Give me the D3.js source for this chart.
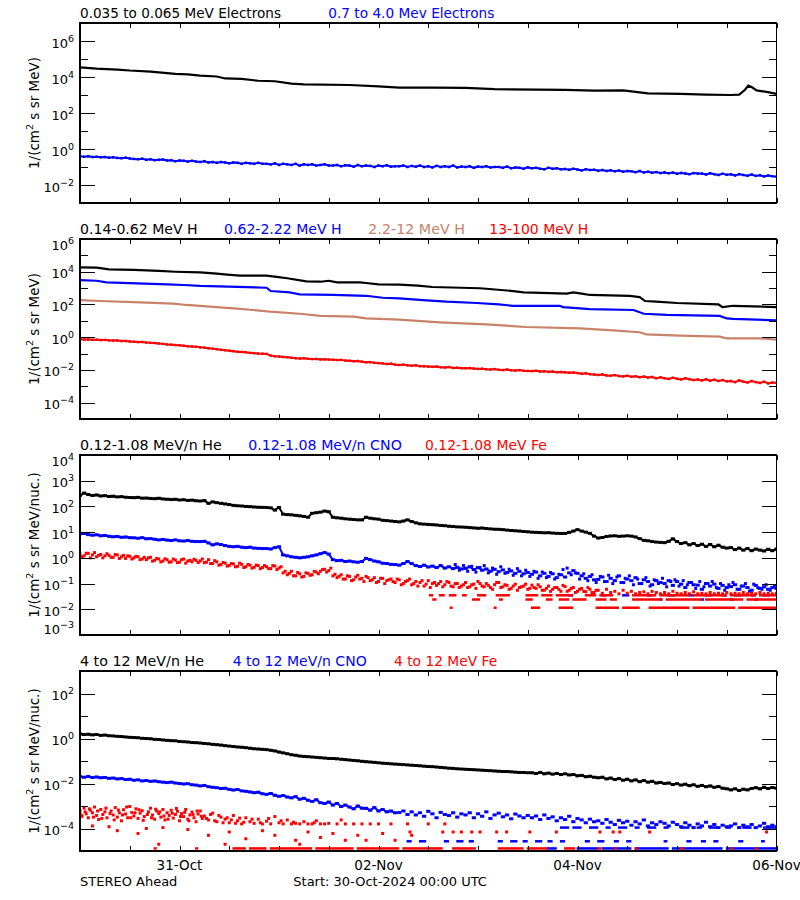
<!DOCTYPE html>
<html><head><meta charset="utf-8">
<script src="https://cdn.jsdelivr.net/npm/d3@7"></script>
<style>
body{margin:0;background:#fff}
svg{display:block}
text{font-family:"DejaVu Sans",sans-serif;}
</style>
</head><body>
<svg id="chart" width="800" height="900"></svg>
<script>
// ---------------- DATA ----------------
const startTime = "2024-10-30T00:00:00Z";
const endTime   = "2024-11-06T00:00:00Z";
const dateTickLabels = ["2024-10-31T00:00:00Z","2024-11-02T00:00:00Z","2024-11-04T00:00:00Z","2024-11-06T00:00:00Z"];

const titles1 = ["0.035 to 0.065 MeV Electrons", "0.7 to 4.0 Mev Electrons"];
const titles2 = ["0.14-0.62 MeV H", "0.62-2.22 MeV H", "2.2-12 MeV H", "13-100 MeV H"];
const titles3 = ["0.12-1.08 MeV/n He", "0.12-1.08 MeV/n CNO", "0.12-1.08 MeV Fe"];
const titles4 = ["4 to 12 MeV/n He", "4 to 12 MeV/n CNO", "4 to 12 MeV Fe"];
const yTitles = ["MeV", "MeV", "MeV/nuc.", "MeV/nuc."];
const footerLeft = "STEREO Ahead";
const footerStart = "Start: 30-Oct-2024 00:00 UTC";

// Panel 1: [hour, flux]
const eLow = [[0,3.4e4],[4,2.9e4],[9,2.6e4],[12,2.3e4],[17,2.0e4],[23,1.5e4],[26,1.4e4],[29,1.2e4],[33,1.07e4],[35,8.3e3],[39,7.8e3],[43,6.2e3],[47,5.8e3],[51,4.3e3],[54,3.9e3],[65,3.6e3],[72,3.0e3],[77,2.6e3],[85,2.6e3],[93,2.5e3],[100,2.1e3],[117,1.95e3],[124,1.74e3],[131,1.8e3],[135,1.4e3],[137,1.23e3],[145,1.15e3],[151,1.05e3],[157,1.0e3],[159,1.05e3],[160.4,1.95e3],[161.2,3.3e3],[162,2.75e3],[163.2,1.8e3],[165.6,1.48e3],[168,1.15e3]];
// hourly values (index = hour)
const eHigh = [
0.39,0.37,0.40,0.36,0.37,0.35,0.36,0.33,0.35,0.32,0.31,0.33,0.30,
0.28,0.27,0.29,0.25,0.27,0.24,0.25,0.26,0.23,0.24,0.21,0.23,0.22,0.20,0.22,0.20,
0.19,0.21,0.18,0.19,0.17,0.19,0.18,0.16,0.18,0.17,0.15,0.17,0.16,0.15,0.17,0.15,
0.15,0.14,0.16,0.13,0.15,0.14,0.13,0.15,0.12,0.14,0.13,0.14,0.12,0.13,0.14,0.12,
0.12,0.13,0.11,0.125,0.12,0.105,0.13,0.11,0.12,0.115,0.10,0.12,0.11,0.125,0.105,0.11,
0.11,0.12,0.10,0.115,0.105,0.12,0.10,0.11,0.095,0.115,0.10,0.11,0.10,0.12,0.095,0.105,0.10,0.11,0.09,0.105,0.10,0.11,0.095,0.10,
0.10,0.09,0.105,0.085,0.095,0.09,0.08,0.095,0.085,0.09,0.08,0.075,0.09,0.08,0.085,0.075,
0.078,0.07,0.08,0.072,0.065,0.075,0.068,0.07,0.062,0.068,0.06,0.065,0.058,0.063,0.055,0.06,
0.058,0.052,0.06,0.05,0.055,0.048,0.052,0.046,0.05,0.045,0.049,0.042,0.047,0.044,0.04,0.046,0.043,
0.043,0.038,0.045,0.04,0.036,0.042,0.037,0.039,0.034,0.04,0.036,0.033,0.038,0.032,0.035,0.03,0.034,0.031,0.029];

// Panel 2
const hLow = [[0,1.86e4],[4,1.78e4],[7,1.41e4],[13,1.29e4],[19,1.12e4],[23,1.0e4],[29,9.1e3],[33,7.6e3],[35.5,6.6e3],[38.6,5.75e3],[45,5.75e3],[47.4,4.8e3],[50,4.0e3],[54.6,2.57e3],[58,2.45e3],[60,2.8e3],[62,2.24e3],[67.5,2.24e3],[69,2.04e3],[72,1.7e3],[77,1.62e3],[81.5,1.41e3],[85,1.17e3],[96.5,980],[104.5,660],[107,550],[117.4,457],[119,550],[121,457],[123,380],[132.6,331],[135,282],[136.3,162],[139,148],[144,123],[154,100],[155,69],[157.5,83],[168,69]];
const hMid = [[0,3.1e3],[4,2.8e3],[6.4,2.24e3],[21,1.7e3],[25,1.55e3],[29,1.35e3],[45,1.05e3],[46,660],[50.6,550],[53,417],[61,380],[69,339],[73,257],[77,234],[83.6,178],[88.4,148],[95.7,123],[101,100],[104.5,83],[115.7,83],[116.5,69],[123,52],[133.5,46],[136,27],[141.5,23],[154.3,20],[156,14],[157.5,13],[168,10.7]];
const hHigh = [[0,186],[4.8,162],[14.5,135],[22.5,112],[25.7,93],[37,58],[41.8,46],[45.8,36],[53,27],[58,20],[66,17.8],[69,14],[77,11.7],[86.8,8.1],[98,6.0],[107.7,4.2],[120.6,3.5],[128.6,2.6],[135,2.0],[136.6,1.48],[144.7,1.23],[154.3,1.07],[156,0.85],[164,0.85],[168,0.71]];
const hTop = [
0.74,0.72,0.73,0.69,0.70,0.67,0.68,0.64,0.62,0.63,0.58,0.59,0.55,
0.53,0.50,0.51,0.47,0.45,0.44,0.41,0.39,
0.36,0.35,0.33,0.32,0.30,0.28,0.27,0.26,
0.24,0.23,0.21,0.20,0.185,0.17,0.16,0.15,
0.14,0.13,0.125,0.12,0.11,0.105,0.10,0.098,0.095,0.075,
0.068,0.066,0.062,0.060,0.055,0.052,0.050,0.052,0.048,0.046,0.047,0.044,0.045,0.043,
0.042,0.040,0.041,0.037,0.036,0.034,0.035,0.032,0.029,0.030,0.027,0.026,0.025,0.023,0.024,0.021,
0.020,0.021,0.019,0.018,0.019,0.017,0.0165,0.016,0.0155,0.016,0.0145,0.014,0.015,0.013,0.0135,0.0128,
0.0126,0.013,0.012,0.0115,0.0118,0.011,0.0105,0.0112,0.0102,0.0098,0.0104,0.0095,0.0092,0.0097,0.0088,0.0086,
0.0085,0.0088,0.008,0.0083,0.0076,0.0079,0.0072,0.0075,0.0071,0.0068,0.007,0.0064,0.0058,0.0062,0.0055,0.0052,
0.0049,0.0053,0.0046,0.0044,0.0048,0.0042,0.0040,0.0044,0.0038,0.0041,0.0036,0.0039,0.0034,0.0037,0.0031,0.0035,
0.0031,0.0028,0.0033,0.0029,0.0026,0.0031,0.0027,0.0024,0.0026,0.0023,0.0027,0.0022,0.0025,0.0021,0.0024,0.0020,
0.0021,0.0018,0.0023,0.0019,0.0017,0.0021,0.0018,0.0016,0.0019,0.0015,0.0017,0.0016];

// Panel 3 (hourly)
const heLow = [
270,330,290,265,280,255,262,245,250,235,240,228,222,
219,225,210,212,205,200,208,195,191,185,190,178,182,172,176,166,
162,168,132,150,140,132,125,118,110,106,104,100,98,95,93,92,
91,88,72,91,50,48,47,45,43,41,38,54,57,60,66,62,
38,36,35,33,32,31,30,30,38,35,33,32,29,28,27,26,
25,27,30,26,23,21,20.5,20,19.5,19,18.2,17.8,17,16.5,16,15.8,
15.5,15,14.6,14.2,14.5,13.8,13.4,13,12.9,12.5,12,11.6,11.3,11,10.6,10.3,
10,9.8,9.6,9.4,9.5,9.2,9.0,8.9,8.9,9.8,11,12.5,11,10,9,7,
5.9,6.2,6.8,7.1,7.2,6.9,7.0,7.2,7.0,6.5,5.6,4.8,4.6,4.3,4.1,4.0,
3.9,4.4,5.5,4.3,3.6,3.9,3.2,3.6,3.0,3.4,2.8,3.3,2.7,3.1,2.6,2.4,
2.5,2.1,2.4,2.0,2.3,1.9,2.2,2.0,1.85,2.15,1.9,2.2];
const cnoLow = [
8.6,8.9,8.0,7.6,7.9,7.2,7.4,6.9,6.6,6.8,6.3,6.5,6.1,
6.0,5.8,6.1,5.5,5.6,5.3,5.0,5.2,4.9,4.7,5.0,4.6,4.5,4.7,4.4,4.3,
4.3,4.4,3.8,3.2,3.5,3.3,3.0,2.8,2.7,2.8,2.6,2.5,2.6,2.4,2.35,2.3,
2.3,2.2,2.5,2.7,1.3,1.2,1.1,1.05,1.0,1.05,1.1,1.2,1.3,1.45,1.6,1.4,
0.85,0.78,0.8,0.72,0.75,0.7,0.68,0.72,0.95,0.85,0.75,0.7,0.62,0.6,0.56,0.55,
0.52,0.6,0.72,0.6,0.5,0.46,0.52,0.44,0.48,0.42,0.5,0.4,0.45,0.38,0.43,0.37,
0.39,0.45,0.35,0.42,0.33,0.37,0.3,0.36,0.29,0.34,0.27,0.31,0.25,0.3,0.24,0.27,
0.23,0.28,0.2,0.25,0.19,0.24,0.17,0.22,0.18,0.26,0.32,0.25,0.2,0.16,0.19,0.14,
0.145,0.18,0.12,0.16,0.13,0.2,0.11,0.15,0.13,0.17,0.1,0.14,0.12,0.09,0.13,0.11,
0.1,0.13,0.085,0.12,0.095,0.07,0.11,0.09,0.087,0.06,0.1,0.08,0.095,0.065,0.085,0.07,
0.076,0.09,0.06,0.08,0.07,0.055,0.085,0.065,0.075,0.06,0.07,0.065];
// second CNO sample each hour (from hour 90, half-hour offset)
const cnoLowB = [
0.55,0.33,0.5,0.3,0.47,0.28,0.42,0.5,0.26,0.4,0.23,0.45,0.25,0.36,0.21,
0.38,0.2,0.33,0.19,0.3,0.16,0.28,0.17,0.27,0.15,0.23,0.35,0.4,0.22,0.26,0.15,
0.24,0.13,0.22,0.11,0.19,0.12,0.21,0.1,0.18,0.11,0.16,0.2,0.09,0.15,0.1,0.17,
0.08,0.14,0.1,0.16,0.075,0.12,0.14,0.08,0.13,0.09,0.11,0.065,0.12,0.075,0.1,0.12,
0.07,0.1,0.055,0.09,0.11,0.06,0.08,0.1,0.05,0.095,0.07,0.06,0.09,0.055,0.08,0.1];
const feLow = [
1.4,1.2,1.5,1.3,1.1,1.35,1.2,1.25,1.05,1.3,1.1,0.95,1.15,
1.0,1.1,0.9,0.85,1.05,0.8,0.9,0.75,0.85,0.7,0.82,0.68,0.9,0.75,0.7,0.8,
0.76,0.65,0.85,0.6,0.7,0.55,0.62,0.5,0.58,0.47,0.56,0.45,0.52,0.43,0.5,0.42,
0.45,0.38,0.48,0.4,0.26,0.22,0.3,0.2,0.24,0.19,0.25,0.22,0.28,0.3,0.36,0.32,
0.2,0.17,0.22,0.15,0.19,0.14,0.21,0.16,0.19,0.13,0.17,0.12,0.16,0.13,0.15,0.11,
0.14,0.1,0.13,0.09,0.12,0.11,0.08,0.13,0.1,0.085,0.12,0.09,0.11,0.075,0.1,0.08,
0.11,0.075,0.095,0.12,0.08,0.1,0.07,0.09,0.11,0.075,0.085,0.065,0.095,0.07,0.08,0.06,
0.087,0.065,0.075,0.055,0.08,0.06,0.07,0.05,0.076,0.055,0.07,0.05,0.065,0.048,0.06,0.045,
0.055,0.042,0.06,0.045,0.05,0.04,0.055,0.042,0.05,0.04,0.045,0.048,0.04,0.05,0.045,0.04,
0.045,0.04,0.05,0.042,0.04,0.045,0.04,0.048,0.04,0.042,0.04,0.045,0.04,0.042,0.04,0.045,
0.04,0.042,0.04,0.045,0.04,0.042,0.04,0.045,0.04,0.042,0.04,0.042];
// second Fe sample each hour (half-hour offset, hours 0-124)
const feLowB = [
1.1,1.5,1.0,1.6,1.25,1.0,1.45,1.05,1.35,0.95,1.25,1.2,0.9,
1.15,0.85,1.05,1.0,0.75,0.95,0.7,0.92,0.68,0.9,0.65,0.85,0.62,0.8,0.88,0.66,
0.9,0.68,0.6,0.78,0.52,0.66,0.48,0.6,0.45,0.62,0.42,0.55,0.4,0.52,0.38,0.5,
0.38,0.5,0.35,0.45,0.3,0.25,0.2,0.27,0.18,0.26,0.21,0.3,0.24,0.35,0.28,0.4,
0.23,0.19,0.15,0.2,0.13,0.18,0.15,0.12,0.17,0.14,0.11,0.16,0.1,0.14,0.12,0.15,
0.09,0.12,0.15,0.1,0.08,0.13,0.095,0.07,0.11,0.1,0.075,0.12,0.08,0.1,0.07,0.09,
0.07,0.09,0.065,0.1,0.075,0.085,0.06,0.11,0.07,0.09,0.06,0.08,0.055,0.075,0.095,0.065,
0.07,0.09,0.055,0.065,0.05,0.07,0.06,0.085,0.05,0.065,0.045,0.06,0.05,0.07,0.045,0.055];
// count-limited levels (value) and the hour ranges where points sit on them
const feLowLevels = [0.035, 0.024, 0.0115];
const feLowRuns = [
 [[84.4,85.2],[86.8,88],[89.2,90.8],[92.4,93.3],[96,98],[100.5,103.7],[107.7,110.5],[111.5,114],[115,118.9],[122,124.5],[125.5,128.6],[133.4,139],[140,147],[148,156],[157,163],[164,168]],
 [[85.2,86],[94.8,96.5],[101.3,102],[107.7,109.2],[112.6,114],[115.7,118],[119,122.2],[124.6,127],[128,129.5],[133.4,140.5],[141.5,150],[151,160],[161,168]],
 [[89.4,89.9],[100,100.5],[109,111],[115.7,119],[124.6,130],[131,135],[137.4,147],[148,158],[159,168]]];
const cnoLowLevels = [0.035, 0.024];
const cnoLowRuns = [
 [[118,119],[126,127],[131,132.5],[137,138],[142,143.5],[147,148],[151,152.5],[155,156],[158,159.5],[162,163],[165,166.5]],
 [[140,140.5],[150,150.5],[157,157.7],[163,163.5]]];

// Panel 4
const heHigh = [
1.6,1.5,1.55,1.45,1.5,1.38,1.42,1.33,1.3,1.25,1.22,1.17,1.13,
1.1,1.08,1.02,1.0,0.97,0.92,0.9,0.86,0.83,0.8,0.79,0.74,0.72,0.7,0.66,0.65,
0.63,0.6,0.58,0.55,0.53,0.51,0.48,0.46,0.44,0.42,0.41,0.39,0.37,0.35,0.34,0.33,
0.32,0.3,0.28,0.25,0.23,0.21,0.19,0.18,0.166,0.16,0.155,0.15,0.145,0.14,0.135,0.13,
0.129,0.125,0.12,0.115,0.11,0.106,0.102,0.097,0.093,0.09,0.087,0.083,0.08,0.078,0.075,0.073,
0.071,0.069,0.067,0.065,0.063,0.061,0.059,0.057,0.056,0.054,0.052,0.05,0.048,0.047,0.045,0.044,
0.043,0.042,0.041,0.04,0.039,0.038,0.037,0.036,0.035,0.034,0.034,0.033,0.032,0.031,0.031,0.03,
0.03,0.028,0.031,0.027,0.029,0.026,0.028,0.025,0.027,0.024,0.025,0.022,0.023,0.02,0.021,0.019,
0.018,0.019,0.016,0.0175,0.015,0.0165,0.014,0.0155,0.013,0.0145,0.012,0.0135,0.0115,0.0125,0.0105,0.0112,
0.01,0.0105,0.009,0.0098,0.0085,0.0093,0.008,0.0088,0.0075,0.0082,0.0072,0.0078,0.0068,0.0073,0.0062,0.0058,
0.0052,0.0058,0.0049,0.0056,0.0052,0.006,0.0065,0.0058,0.0068,0.006,0.0066,0.0062];
const cnoHigh = [
0.02,0.019,0.0205,0.0185,0.0195,0.018,0.0185,0.017,0.0175,0.016,0.0165,0.015,0.0155,
0.014,0.0145,0.013,0.0135,0.0125,0.013,0.012,0.0115,0.011,0.0115,0.0105,0.01,0.0095,0.0098,0.0088,0.0085,
0.0078,0.0082,0.0072,0.0068,0.0065,0.006,0.0062,0.0055,0.0051,0.0054,0.0047,0.0045,0.0042,0.0039,0.0041,0.0035,
0.0033,0.0036,0.003,0.0027,0.0029,0.0025,0.0023,0.0026,0.002,0.0022,0.0018,0.0016,0.0019,0.0014,0.0013,0.0015,
0.0011,0.0013,0.00095,0.0011,0.0009,0.00075,0.001,0.0008,0.00079,0.00065,0.00085,0.0006,0.0007,0.00055,0.0006,0.0005,
0.00051,0.0006,0.00042,0.00055,0.0004,0.0005,0.00035,0.00058,0.00045,0.0003,0.00052,0.00042,0.00038,0.0005,0.00032,0.00045,
0.0004,0.0005,0.0003,0.00045,0.00035,0.00055,0.00028,0.0004,0.00048,0.00033,0.0004,0.00027,0.00044,0.00036,0.0003,0.00038,
0.0003,0.00036,0.00025,0.0004,0.00028,0.00033,0.00022,0.0003,0.00025,0.00035,0.0002,0.00028,0.00024,0.00018,0.00026,0.0002,
0.00022,0.00017,0.00025,0.00019,0.00015,0.00023,0.00018,0.00021,0.00014,0.0002,0.00016,0.00024,0.00013,0.00018,0.00015,0.0002,
0.00017,0.00013,0.00019,0.00015,0.00012,0.00018,0.00014,0.00011,0.00016,0.00013,0.00019,0.00012,0.00015,0.00011,0.00014,0.00012,
0.00013,0.00016,0.00011,0.00014,0.00012,0.00015,0.00011,0.00013,0.00017,0.00012,0.00014,0.00012];
// sparse Fe points [hour, flux]
const feHigh = [[0,6e-4],[0.5,3.5e-4],[1,8e-4],[1.5,4.5e-4],[2,3e-4],[2.5,6.5e-4],[3,5e-4],[3.5,9e-4],[4,3.8e-4],[4.5,2.5e-4],[5,7e-4],[5.5,4.2e-4],[6,5.5e-4],[6.5,3e-4],[7,1.2e-4],[7.5,6e-4],[8,4e-4],[8.5,8.5e-4],[9,3.2e-4],[9.5,5e-4],[10,2.2e-4],[10.5,6.8e-4],[11,4.4e-4],[11.5,3e-4],[12,9.5e-4],[12.5,5.2e-4],[13,3.6e-4],[13.5,7.5e-4],[14,2.8e-4],[14.5,4.8e-4],[15,6.2e-4],[15.5,3.4e-4],[16,1e-4],[16.5,5.5e-4],[17,8e-4],[17.5,4e-4],[18,2.6e-4],[18.5,6e-4],[19,4.6e-4],[19.5,3.2e-4],[20,7e-4],[20.5,2.4e-4],[21,5e-4],[21.5,3.8e-4],[22,6.5e-4],[22.5,2.9e-4],[23,4.2e-4],[23.5,5.8e-4],[24,2.2e-4],[24.5,4.6e-4],[25,3.4e-4],[25.5,7e-4],[26,2.6e-4],[26.5,4e-4],[27,5.4e-4],[27.5,3e-4],[28,2e-4],[28.5,4.4e-4],[29,6e-4],[29.5,2.8e-4],
[30,3.6e-4],[31,2.4e-4],[32,4.8e-4],[33,2e-4],[34,3.2e-4],[35,2.6e-4],[36,1.8e-4],[37,3.8e-4],[38,2.2e-4],[39,1.6e-4],[40,3e-4],[41,2e-4],[42,1.7e-4],[43,2.6e-4],[44,1.6e-4],[45,2.1e-4],[46,1.6e-4],[47,3.4e-4],[48,1.8e-4],[49,1.6e-4],[50,2.4e-4],[51,1.6e-4],[52,1.7e-4],[53,1.6e-4],[54,2e-4],[55,1.6e-4],[56,1.6e-4],[57,2.2e-4],[58,1.6e-4],[59,1.6e-4],[60,1.7e-4],[62,1.6e-4],[63,2.4e-4],[64,1.6e-4],[66,1.6e-4],[68,1.6e-4],[70,1.6e-4],[72,1.6e-4],[75,1.6e-4],[79,1.6e-4],[84,1.6e-4],[88,1.6e-4],
[3,1.3e-4],[9,8e-5],[14,6e-5],[20,1.1e-4],[26,9e-5],[31,5e-5],[36,7e-5],[40,3.5e-5],[44,8e-5],[47,5e-5],[52,3e-5],[55,7e-5],[58,4e-5],[61,6e-5],[64,3e-5],[67,5e-5],[69,3e-5],[73,6e-5],[76,3e-5],[80,5e-5],[19,2e-5],[35,2e-5],[53,2e-5],
[79.6,7e-5],[87.5,7e-5],[90,7e-5],[92,7e-5],[94.5,7e-5],[96.5,7e-5],[100.5,7e-5],[102.9,7e-5],[108.5,7e-5],[114.9,7e-5],[125.4,7e-5],[128.6,7e-5],[130.2,7e-5],[137.4,7e-5],[165.6,7e-5],
[0.25,4e-4],[1.25,5.5e-4],[2.25,7.5e-4],[3.25,3.2e-4],[4.25,6e-4],[5.25,2.8e-4],[6.25,8e-4],[7.25,4.6e-4],[8.25,2.4e-4],[9.25,6.6e-4],[10.25,4e-4],[11.25,9e-4],[12.25,3e-4],[13.25,5e-4],[14.25,6.8e-4],[15.25,2.3e-4],[16.25,4.2e-4],[17.25,3e-4],[18.25,7.2e-4],[19.25,5.5e-4],[20.25,3.6e-4],[21.25,2.6e-4],[22.25,4.8e-4],[23.25,7.8e-4],[24.25,3.4e-4],[25.25,5.2e-4],[26.25,2.2e-4],[27.25,4.2e-4],[28.25,6e-4],[29.25,3.5e-4],[30.5,2.8e-4],[31.5,4.2e-4],[32.5,2.2e-4],[33.5,3.8e-4],[34.5,1.8e-4],[35.5,3e-4],[36.5,2.4e-4],[37.5,1.7e-4],[38.5,2.9e-4],[39.5,1.9e-4],[41.5,2.6e-4],[43.5,1.8e-4],[45.5,2.8e-4],[48.5,2.2e-4],[51.5,1.9e-4],[56.5,1.8e-4]];
const feHighLevels = [1.3e-5];
const feHighRuns = [[[18,18.5],[28,28.5],[37,40],[41,45],[46,56],[57,66],[67,77],[78,87.5],[90,95.5],[101,107],[108,113],[117,119.5]]];
const cnoHighLevels = [1.3e-5, 2.7e-5, 1.1e-4];
const cnoHighRuns = [
 [[113,115],[120,125],[126,133],[134,142],[143,155],[156,168]],
 [[79,80],[82,83.5],[88,89],[91,92.5],[94,95],[101,102],[104,105.5],[107,108],[110,111.5],[113,114],[116,117],[122,123],[125,126.5],[129,130],[132,133],[141,141.7],[146.5,147.5],[150,151],[153,154],[159,160],[164.5,165.2]],
 [[116,118],[119,121],[123,125],[127,128],[130,132],[134,135],[137,139],[141,142],[145,147],[149,150],[152,154],[156,157],[160,162],[165,168]]];
const feHighLateLevels = [1.3e-5];
const feHighLateRuns = [[[125,125.7],[129,129.5],[134,134.5],[145,145.7],[157,157.5],[163,163.5]]];

// ---------------- LAYOUT / STYLE ----------------
const W = 800, H = 900;
const left = 80, right = 776.5;
const panelTops = [23, 239, 455, 671];
const panelH = 180;
const BLUE = "#0000ff", RED = "#ff0000", TAN = "#c8826a", BLACK = "#000000";

const svg = d3.select("#chart");
svg.append("rect").attr("width", W).attr("height", H).attr("fill", "#fff");
const x = d3.scaleUtc().domain([new Date(startTime), new Date(endTime)]).range([left, right]);
const hourDate = h => new Date(Date.parse(startTime) + h * 3600000);
const hourly = (arr, from = 0, off = 0) => arr.map((v, i) => [from + i + off, v]);

const panels = [
  {domain: [1e-3, 1e7], allMajor: false, titles: titles1, colors: [BLACK, BLUE], tx: [80, 328.3], tl: [201, 166],
   series: [
     {data: eLow, color: BLACK, line: 2.2},
     {data: hourly(eHigh), color: BLUE, line: 2, pw: 2.5, ph: 2.5}
   ]},
  {domain: [1e-5, 1e6], allMajor: false, titles: titles2, colors: [BLACK, BLUE, TAN, RED], tx: [80, 224, 368.3, 489.3], tl: [117.7, 117.7, 96.7, 99],
   series: [
     {data: hLow, color: BLACK, line: 2.2},
     {data: hMid, color: BLUE, line: 2.2},
     {data: hHigh, color: TAN, line: 2.2},
     {data: hourly(hTop), color: RED, line: 2, pw: 2.5, ph: 2.5}
   ]},
  {domain: [1e-3, 1e4], allMajor: true, titles: titles3, colors: [BLACK, BLUE, RED], tx: [80, 248.3, 425], tl: [141.7, 153.5, 121.7],
   series: [
     {data: hourly(heLow), color: BLACK, line: 2, lineUntil: 168, pw: 4.2, ph: 3},
     {data: hourly(cnoLow), color: BLUE, line: 2, lineUntil: 100, pw: 4.2, ph: 3},
     {data: hourly(cnoLowB, 90, 0.5), color: BLUE, pw: 3, ph: 3},
     {runs: cnoLowRuns, levels: cnoLowLevels, color: BLUE},
     {data: hourly(feLow), color: RED, pw: 3, ph: 3},
     {data: hourly(feLowB, 0, 0.5), color: RED, pw: 3, ph: 3},
     {runs: feLowRuns, levels: feLowLevels, color: RED}
   ]},
  {domain: [1e-5, 1e3], allMajor: false, titles: titles4, colors: [BLACK, BLUE, RED], tx: [80, 232.7, 394], tl: [124, 134, 103.3],
   series: [
     {data: hourly(heHigh), color: BLACK, line: 2, lineUntil: 168, pw: 4.2, ph: 3},
     {data: hourly(cnoHigh), color: BLUE, line: 2, lineUntil: 76, pw: 4.2, ph: 3},
     {data: feHigh, color: RED, pw: 3, ph: 3},
     {runs: feHighRuns, levels: feHighLevels, color: RED},
     {runs: cnoHighRuns, levels: cnoHighLevels, color: BLUE},
     {runs: feHighLateRuns, levels: feHighLateLevels, color: RED}
   ]}
];

panels.forEach((p, i) => {
  const top = panelTops[i], bottom = top + panelH;
  const y = d3.scaleLog().domain(p.domain).range([bottom, top]);
  const g = svg.append("g");
  const clipId = "clip" + i;
  svg.append("clipPath").attr("id", clipId).append("rect")
    .attr("x", left).attr("y", top).attr("width", right - left).attr("height", panelH);

  // data
  const dg = g.append("g").attr("clip-path", `url(#${clipId})`);
  p.series.forEach(s => {
    if (s.runs) {
      s.runs.forEach((runs, k) => {
        dg.append("g").selectAll("rect").data(runs).join("rect")
          .attr("x", d => x(hourDate(d[0])) - 1)
          .attr("width", d => Math.max(2.5, x(hourDate(d[1])) - x(hourDate(d[0])) + 1))
          .attr("y", y(s.levels[k]) - 1.25).attr("height", 2.5)
          .attr("fill", s.color);
      });
      return;
    }
    const pts = s.data.filter(d => d[1] != null && d[1] > 0);
    if (s.line) {
      const lim = s.lineUntil != null ? s.lineUntil : 1e9;
      const lp = pts.filter(d => d[0] <= lim);
      dg.append("path").datum(lp)
        .attr("d", d3.line().x(d => x(hourDate(d[0]))).y(d => y(d[1])))
        .attr("fill", "none").attr("stroke", s.color).attr("stroke-width", s.line)
        .attr("stroke-linejoin", "miter");
    }
    if (s.pw) {
      dg.append("g").selectAll("rect").data(pts).join("rect")
        .attr("x", d => x(hourDate(d[0])) - s.pw / 2)
        .attr("y", d => y(d[1]) - s.ph / 2)
        .attr("width", s.pw).attr("height", s.ph)
        .attr("fill", s.color);
    }
  });

  // y ticks
  const e0 = Math.round(Math.log10(p.domain[0])), e1 = Math.round(Math.log10(p.domain[1]));
  const exps = d3.range(e0, e1 + 1);
  const majors = exps.filter(e => p.allMajor || e % 2 === 0);
  const minors = exps.filter(e => !(p.allMajor || e % 2 === 0));
  const axG = g.append("g").attr("stroke-width", 1);
  const mk = (axisFn, xpos, vals, size) => {
    const a = axG.append("g").attr("transform", `translate(${xpos},0)`)
      .call(axisFn(y).tickValues(vals.map(e => Math.pow(10, e))).tickSize(-size).tickFormat(""));
    a.select(".domain").remove();
    a.selectAll("line").attr("stroke", "#000").attr("shape-rendering", "crispEdges");
  };
  mk(d3.axisLeft, left, majors, 15);
  mk(d3.axisLeft, left, minors, 8);
  mk(d3.axisRight, right, majors, 15);
  mk(d3.axisRight, right, minors, 8);

  // x ticks (every 12 h)
  const xt = x.ticks(d3.utcHour.every(12));
  const xb = g.append("g").attr("transform", `translate(0,${bottom})`)
    .call(d3.axisBottom(x).tickValues(xt).tickSize(-5).tickFormat(""));
  xb.select(".domain").remove();
  xb.selectAll("line").attr("stroke", "#000").attr("shape-rendering", "crispEdges");
  const xtp = g.append("g").attr("transform", `translate(0,${top})`)
    .call(d3.axisTop(x).tickValues(xt).tickSize(-5).tickFormat(""));
  xtp.select(".domain").remove();
  xtp.selectAll("line").attr("stroke", "#000").attr("shape-rendering", "crispEdges");

  // frame
  g.append("rect").attr("x", left).attr("y", top).attr("width", right - left).attr("height", panelH)
    .attr("fill", "none").attr("stroke", "#000").attr("stroke-width", 1.2).attr("shape-rendering", "crispEdges");

  // y tick labels
  majors.forEach(e => {
    let by = y(Math.pow(10, e)) + 6.5;
    by = Math.max(by, top + 10.5);
    by = Math.min(by, bottom - 1);
    const t = g.append("text").attr("x", 74).attr("y", by).attr("text-anchor", "end")
      .attr("font-size", 13).attr("fill", "#000");
    t.append("tspan").text("10");
    t.append("tspan").attr("dy", -6).attr("font-size", 9.5).text(e < 0 ? "\u2212" + (-e) : String(e));
  });

  // y title
  const yt = g.append("text").attr("transform", `translate(39,${(top + bottom) / 2}) rotate(-90)`)
    .attr("text-anchor", "middle").attr("font-size", 13.5).attr("fill", "#000");
  yt.append("tspan").text("1/(cm");
  yt.append("tspan").attr("dy", -6).attr("font-size", 9.5).text("2");
  yt.append("tspan").attr("dy", 6).text(" s sr " + yTitles[i] + ")");

  // panel titles
  p.titles.forEach((tt, k) => {
    g.append("text").attr("x", p.tx[k]).attr("y", top - 5.5).attr("font-size", 13.5)
      .attr("fill", p.colors[k]).attr("textLength", p.tl[k]).attr("lengthAdjust", "spacingAndGlyphs").text(tt);
  });

  if (i === panels.length - 1) {
    dateTickLabels.forEach(ds => {
      const d = new Date(ds);
      g.append("text").attr("x", x(d)).attr("y", bottom + 18.5).attr("text-anchor", "middle")
        .attr("font-size", 13.5).attr("fill", "#000").text(d3.utcFormat("%d-%b")(d));
    });
    svg.append("text").attr("x", 80).attr("y", 886).attr("font-size", 13).text(footerLeft);
    svg.append("text").attr("x", 293.3).attr("y", 886).attr("font-size", 13).text(footerStart);
  }
});
</script>
</body></html>
